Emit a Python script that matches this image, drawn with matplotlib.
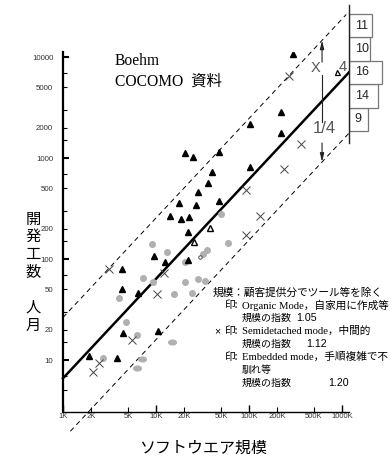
import matplotlib
matplotlib.use("Agg")
import matplotlib.pyplot as plt
from matplotlib.ticker import FixedLocator, FixedFormatter
from matplotlib.markers import MarkerStyle
from matplotlib.path import Path
from matplotlib.transforms import Affine2D
import numpy as np

plt.rcParams['font.family'] = ['Liberation Sans', 'Noto Sans CJK JP']
JP = ['Noto Sans CJK JP']
SERIF_JP = ['Liberation Serif', 'Noto Sans CJK JP']

# size in K lines, effort in person-months
embedded_size = [20.5, 25.0, 47.6, 40.0, 36.2, 28.3, 47.6, 17.7, 26.9, 14.1,
                 18.6, 22.6, 22.1, 9.5, 12.5, 22.1, 4.31, 4.31, 6.4, 4.42,
                 10.5, 1.90, 3.81, 221, 102.5, 221, 102.5, 297]
embedded_effort = [1121, 1023, 1147, 727, 566, 461, 375, 359, 342, 267,
                   249, 261, 185, 107, 93, 98, 80, 50.5, 46, 18.5,
                   19.4, 11, 10.5, 2853, 2172, 1769, 815, 10700]
# triangles sitting on the fit line (drawn hollow)
embedded_on_line_size = [25.6, 38.1]
embedded_on_line_effort = [147, 203]

semi_size = [3.12, 10.3, 12.2, 5.52, 2.44, 2.10, 92.9, 362, 238, 92.9, 131, 269]
semi_effort = [80, 45, 73, 15.8, 9.3, 7.6, 173, 1376, 778, 482, 267, 6490]

organic_size = [9.06, 13.1, 7.25, 9.29, 20.5, 20.5, 28.3, 33.6, 4.0, 15.6,
                24.4, 4.76, 6.25, 2.69, 50.0, 59.5, 35.3, 32.0]
organic_effort = [141, 117, 65, 59, 93, 59, 63, 61, 41, 45,
                  46, 23.8, 17.7, 10.5, 279, 144, 123, 112]
organic_blob_size = [7.07, 6.25, 14.9]
organic_blob_effort = [10.2, 8.3, 15.1]
organic_small_size = [29.7]
organic_small_effort = [105]

# fit: effort = A * size^B, band = x4 and x1/4
fit_a = 6.6
fit_b = 0.985
band = 4.0
fit_range = [1.0, 1190.0]
upper_range = [1.0, 1110.0]
lower_range = [1.2, 1180.0]

# residual histogram on the right (bottom -> top)
hist_counts = [9, 14, 16, 10, 11]

x_major = [1, 10, 100, 1000]
x_major_labels = ["1K", "10K", "100K", "1000K"]
x_minor = [2, 5, 20, 50, 200, 500]
x_minor_labels = ["2K", "5K", "20K", "50K", "200K", "500K"]
y_major = [10, 100, 1000, 10000]
y_major_labels = ["10", "100", "1000", "10000"]
y_minor = [5, 7, 15, 20, 30, 50, 70, 150, 200, 300, 500, 700,
           1500, 2000, 3000, 5000, 7000]
y_minor_labels = ["", "", "", "20", "", "50", "", "", "200", "", "500", "",
                  "", "2000", "", "5000", ""]

legend_lines = [
    (213, 293, "規模：顧客提供分でツール等を除く", JP, 7.7),
    (225, 305, "印:", JP, 7.7),
    (242, 305, "Organic Mode，自家用に作成等", SERIF_JP, 7.7),
    (242, 318, "規模の指数", JP, 7.2),
    (214, 331, "×", ['Liberation Sans'], 7.7),
    (225, 331, "印:", JP, 7.7),
    (242, 331, "Semidetached mode，中間的", SERIF_JP, 7.7),
    (242, 344, "規模の指数", JP, 7.2),
    (225, 357, "印:", JP, 7.7),
    (242, 357, "Embedded mode，手順複雑で不", SERIF_JP, 7.7),
    (242, 370, "馴れ等", JP, 7.2),
    (242, 383, "規模の指数", JP, 7.2),
]
legend_exps = [(296, 318, "1.05"), (306, 344, "1.12"), (328, 383, "1.20")]

W, H = 392, 457


def px(x, y):
    return x / W, 1 - y / H


fig = plt.figure(figsize=(W / 100, H / 100), dpi=100)
ax = fig.add_axes([63 / W, 1 - 412 / H, 286 / W, 360 / H])
ax.set_xscale('log')
ax.set_yscale('log')
ax.set_xlim(1, 1189)
ax.set_ylim(3.06, 11220)
ax.patch.set_visible(False)

for s in ['top', 'right']:
    ax.spines[s].set_visible(False)
ax.spines['left'].set_linewidth(1.6)
ax.spines['bottom'].set_linewidth(1.0)

ax.xaxis.set_major_locator(FixedLocator(x_major))
ax.xaxis.set_major_formatter(FixedFormatter(x_major_labels))
ax.xaxis.set_minor_locator(FixedLocator(x_minor))
ax.xaxis.set_minor_formatter(FixedFormatter(x_minor_labels))
ax.yaxis.set_major_locator(FixedLocator(y_major))
ax.yaxis.set_major_formatter(FixedFormatter(y_major_labels))
ax.yaxis.set_minor_locator(FixedLocator(y_minor))
ax.yaxis.set_minor_formatter(FixedFormatter(y_minor_labels))
ax.tick_params(axis='x', which='major', direction='in', length=5, width=1.0,
               pad=0.5, labelsize=5.5, labelcolor='#333333')
ax.tick_params(axis='x', which='minor', direction='in', length=3.5, width=0.8,
               pad=0.5, labelsize=5.5, labelcolor='#333333')
ax.tick_params(axis='y', which='major', direction='in', length=4, width=1.5,
               pad=7, labelsize=5.7, labelcolor='#333333')
ax.tick_params(axis='y', which='minor', direction='in', length=3, width=0.8,
               pad=7, labelsize=5.7, labelcolor='#333333')

# fit line and x4 / x1/4 band
fx = np.array(fit_range)
ax.plot(fx, fit_a * fx ** fit_b, color='black', lw=1.8, clip_on=False)
ux = np.array(upper_range)
ax.plot(ux, band * fit_a * ux ** fit_b, color='black', lw=0.7,
        ls=(0, (5, 4)), clip_on=False)
lx = np.array(lower_range)
ax.plot(lx, fit_a * lx ** fit_b / band, color='black', lw=0.7,
        ls=(0, (5, 4)), clip_on=False)

# data points
ax.plot(organic_size, organic_effort, ls='none', marker='o', ms=4,
        color='#b0b0b0', mec='#b0b0b0')
blob = MarkerStyle(Affine2D().scale(1.6, 1).transform_path(Path.unit_circle()))
ax.plot(organic_blob_size, organic_blob_effort, ls='none', marker=blob, ms=5.5,
        color='#b0b0b0', mec='#b0b0b0')
ax.plot(organic_small_size, organic_small_effort, ls='none', marker='o', ms=2.5,
        mfc='white', mec='#333333', mew=0.6)
ax.plot(semi_size, semi_effort, ls='none', marker='x', ms=5.8,
        color='#444444', mew=0.7)
ax.plot(embedded_size, embedded_effort, ls='none', marker='^', ms=4.8,
        color='black')
ax.plot(embedded_on_line_size, embedded_on_line_effort, ls='none', marker='^',
        ms=4.8, mfc='white', mec='black', mew=1.0, zorder=3)
ax.plot([884], [7100], ls='none', marker='^', ms=3.6, mfc='white', mec='black',
        mew=0.9, zorder=3, clip_on=False)

# band arrow with gaps for the labels
arrow_x = 610
top_tip = band * fit_a * arrow_x ** fit_b
bot_tip = fit_a * arrow_x ** fit_b / band
aprops = dict(arrowstyle='-|>,head_length=0.5,head_width=0.12', color='#222222',
              lw=0.8, shrinkA=0, shrinkB=0)
ax.annotate('', xy=(arrow_x, top_tip), xytext=(arrow_x, 8900),
            arrowprops=aprops, annotation_clip=False)
ax.plot([arrow_x, arrow_x], [6640, 2270], color='#222222', lw=0.8)
ax.annotate('', xy=(arrow_x, bot_tip), xytext=(arrow_x, 1410),
            arrowprops=aprops, annotation_clip=False)
ax.text(525, 7780, "X", fontsize=10.5, color='#555555', ha='center', va='center')
ax.text(1025, 7940, "4", fontsize=10.5, color='#555555', ha='center', va='center')
ax.text(640, 1982, "1/4", fontsize=12, color='#555555', ha='center', va='center')

# residual histogram
ax2 = fig.add_axes([349 / W, 1 - 143 / H, 43 / W, 138 / H])
pos = np.arange(len(hist_counts)) + 0.5
ax2.barh(pos, hist_counts, height=1, left=0, color='white', edgecolor='#777777',
         lw=0.9)
for p, c in zip(pos, hist_counts):
    ax2.text(2.8, p, str(c), ha='left', va='center', fontsize=9, color='#222222')
ax2.set_xlim(0, 20.8)
ax2.set_ylim(-0.51, 5.38)
ax2.set_xticks([])
ax2.set_yticks([])
ax2.patch.set_visible(False)
for s in ['top', 'right', 'bottom']:
    ax2.spines[s].set_visible(False)
ax2.spines['left'].set_linewidth(1.0)
ax2.spines['left'].set_color('#222222')

# titles
fig.text(*px(115, 61), "Boehm", family=SERIF_JP, fontsize=11.2,
         ha='left', va='center')
fig.text(*px(115, 82), "COCOMO  資料", family=SERIF_JP, fontsize=11.2,
         ha='left', va='center')
fig.text(*px(203, 448), "ソフトウエア規模", family=JP, fontsize=11.5,
         ha='center', va='center')
for i, ch in enumerate("開発工数"):
    fig.text(*px(33, 219 + 17.8 * i), ch, family=JP, fontsize=11,
             ha='center', va='center')
for i, ch in enumerate("人月"):
    fig.text(*px(33, 307 + 18.5 * i), ch, family=JP, fontsize=11,
             ha='center', va='center')

for x, y, s, fam, fs in legend_lines:
    fig.text(*px(x, y), s, family=fam, fontsize=fs, ha='left', va='center')
for x, y, s in legend_exps:
    fig.text(*px(x, y), s, fontsize=7.7, ha='left', va='center')

fig.savefig("out.png", dpi=100)
